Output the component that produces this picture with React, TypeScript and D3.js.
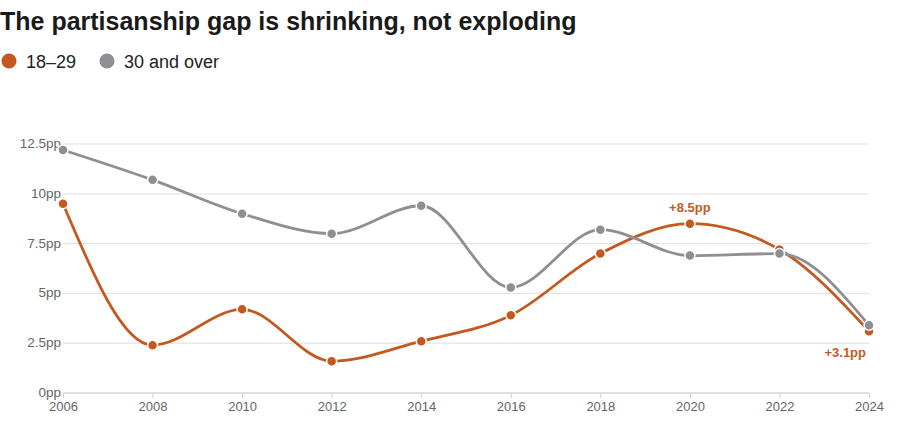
import React, { useEffect, useRef } from 'react';
import * as d3 from 'd3';

const years = [2006, 2008, 2010, 2012, 2014, 2016, 2018, 2020, 2022, 2024];
const young = [9.5, 2.4, 4.2, 1.6, 2.6, 3.9, 7.0, 8.5, 7.2, 3.1];
const older = [12.2, 10.7, 9.0, 8.0, 9.4, 5.3, 8.2, 6.9, 7.0, 3.4];
const yTicks = [0, 2.5, 5, 7.5, 10, 12.5];

const ORANGE = '#c4591f';
const GRAY = '#8e8e93';
const FONT = '"Liberation Sans", Arial, Helvetica, sans-serif';

const W = 900;
const H = 437;

const App: React.FC = () => {
  const svgRef = useRef<SVGSVGElement>(null);

  useEffect(() => {
    if (!svgRef.current) return;
    const svg = d3.select(svgRef.current);
    svg.selectAll('*').remove();

    const margin = { top: 144, right: 31, bottom: 44, left: 63 };
    const innerW = W - margin.left - margin.right;
    const innerH = H - margin.top - margin.bottom;

    // title + legend
    svg.append('text')
      .attr('x', 0)
      .attr('y', 30)
      .attr('font-family', FONT)
      .attr('font-weight', 700)
      .attr('font-size', '25px')
      .attr('fill', '#1a1a1a')
      .text('The partisanship gap is shrinking, not exploding');

    const legend = [
      { label: '18–29', color: ORANGE, x: 9 },
      { label: '30 and over', color: GRAY, x: 107 },
    ];
    const lg = svg.append('g').attr('transform', 'translate(0,61)');
    legend.forEach((l) => {
      lg.append('circle').attr('cx', l.x).attr('cy', 0).attr('r', 7.5).attr('fill', l.color);
      lg.append('text')
        .attr('x', l.x + 17)
        .attr('y', 6.5)
        .attr('font-family', FONT)
        .attr('font-size', '18px')
        .attr('fill', '#222')
        .text(l.label);
    });

    const g = svg.append('g').attr('transform', `translate(${margin.left},${margin.top})`);

    const x = d3.scaleLinear().domain([2006, 2024]).range([0, innerW]);
    const y = d3.scaleLinear().domain([0, 12.5]).range([innerH, 0]);

    // gridlines
    g.append('g')
      .selectAll('line')
      .data(yTicks)
      .join('line')
      .attr('x1', 0)
      .attr('x2', innerW)
      .attr('y1', (d) => y(d))
      .attr('y2', (d) => y(d))
      .attr('stroke', (d) => (d === 0 ? '#d4d4d4' : '#e3e3e3'))
      .attr('stroke-width', (d) => (d === 0 ? 1.5 : 1.2));

    // y labels
    g.append('g')
      .selectAll('text')
      .data(yTicks)
      .join('text')
      .attr('x', -2)
      .attr('y', (d) => y(d) + 4)
      .attr('text-anchor', 'end')
      .attr('font-family', FONT)
      .attr('font-size', '13.5px')
      .attr('fill', '#666')
      .text((d) => `${d}pp`);

    // x axis
    const xAxis = g.append('g')
      .attr('transform', `translate(0,${innerH})`)
      .call(d3.axisBottom(x).tickValues(years).tickFormat(d3.format('d')).tickSize(5).tickPadding(4));
    xAxis.select('.domain').remove();
    xAxis.selectAll('line').attr('stroke', '#d4d4d4').attr('stroke-width', 1.2);
    xAxis.selectAll('text')
      .attr('font-family', FONT)
      .attr('font-size', '13px')
      .attr('fill', '#666');

    const series = [
      { values: young, color: ORANGE },
      { values: older, color: GRAY },
    ];

    const line = d3.line<number>()
      .x((_, i) => x(years[i]))
      .y((d) => y(d))
      .curve(d3.curveMonotoneX);

    series.forEach((s) => {
      g.append('path')
        .datum(s.values)
        .attr('d', line)
        .attr('fill', 'none')
        .attr('stroke', s.color)
        .attr('stroke-width', 2.8);
    });

    series.forEach((s) => {
      g.append('g')
        .selectAll('circle')
        .data(s.values)
        .join('circle')
        .attr('cx', (_, i) => x(years[i]))
        .attr('cy', (d) => y(d))
        .attr('r', 5)
        .attr('fill', s.color)
        .attr('stroke', '#fff')
        .attr('stroke-width', 1.5);
    });

    // value callouts
    const peakIdx = years.indexOf(2020);
    g.append('text')
      .attr('x', x(2020))
      .attr('y', y(young[peakIdx]) - 12)
      .attr('text-anchor', 'middle')
      .attr('font-family', FONT)
      .attr('font-weight', 700)
      .attr('font-size', '13px')
      .attr('fill', ORANGE)
      .text(`+${young[peakIdx]}pp`);

    const last = young.length - 1;
    g.append('text')
      .attr('x', x(2024) - 3)
      .attr('y', y(young[last]) + 26)
      .attr('text-anchor', 'end')
      .attr('font-family', FONT)
      .attr('font-weight', 700)
      .attr('font-size', '13px')
      .attr('fill', ORANGE)
      .text(`+${young[last]}pp`);
  }, []);

  return (
    <div style={{ position: 'fixed', left: 0, top: 0, width: W, height: H, background: '#fff' }}>
      <svg ref={svgRef} width={W} height={H} style={{ display: 'block' }} />
    </div>
  );
};

export default App;
